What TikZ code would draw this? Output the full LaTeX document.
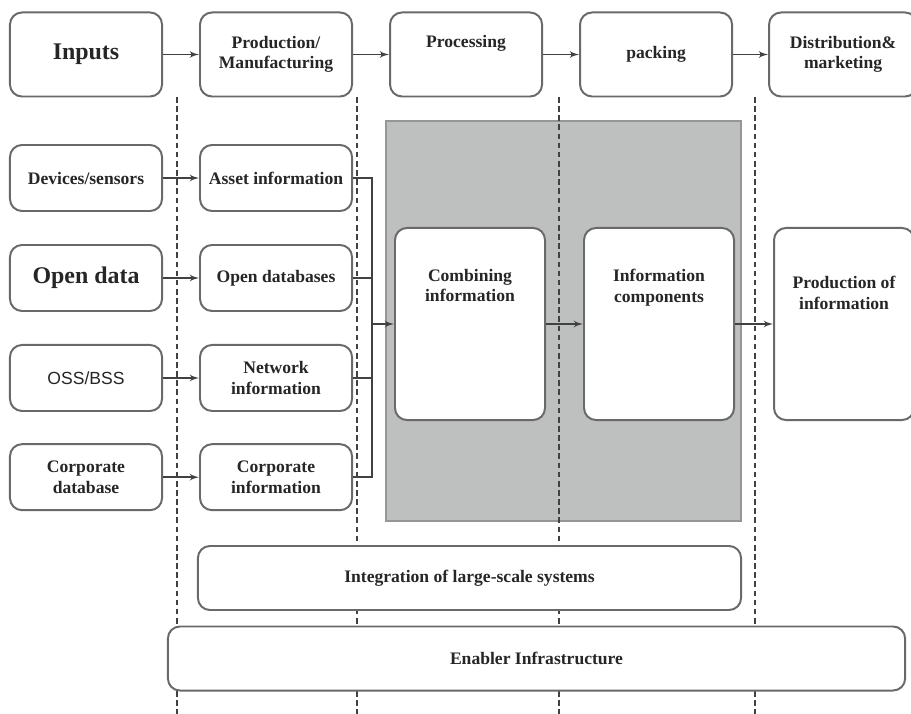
\documentclass[tikz,border=0pt]{standalone}
\usepackage{fontspec}
\setmainfont{Liberation Serif}
\newfontfamily\osssans{Liberation Sans}
\usepackage{tikz}
\usetikzlibrary{shapes,arrows}
\usetikzlibrary{calc,positioning}
\usepackage{xcolor}
\definecolor{boxgray}{RGB}{105,105,105}
\definecolor{linegray}{RGB}{65,65,65}
\definecolor{shadegray}{RGB}{190,191,191}
\tikzstyle{arrow} = [line width=1.3pt,draw=linegray,->,>=latex']
\tikzset{
    block/.style = {draw=boxgray, line width=1.4pt, fill=white, rectangle, rounded corners=0.3cm,
        minimum width=3.8cm, minimum height=2.1cm, align=center, text=black!85,
        font=\fontsize{12.5}{14.5}\selectfont\bfseries},
    smallblock/.style = {block, minimum height=1.65cm},
    tallblock/.style = {block, minimum width=3.75cm, minimum height=4.8cm},
    wideblock/.style = {block, minimum height=1.6cm},
    bigtext/.style = {font=\fontsize{17}{20}\selectfont\bfseries},
    stage/.style = {dash pattern=on 4pt off 2.5pt, line width=1.2pt, draw=linegray},
}

\begin{document}
\begin{tikzpicture}[x=0.025cm, y=-0.025cm, node distance=0.9cm]
    \useasboundingbox (0,0) rectangle (911,714);

    % shaded area and stage borders
    \filldraw [fill=shadegray, draw=boxgray!70, line width=0.8pt] (386,121) rectangle (741,521);
    \foreach \x in {177,357,559,755}
        \draw [stage] (\x,97) -- (\x,714);

    % value chain
    \node [block, bigtext] (inputs) at (86,54.5) {Inputs};
    \node [block, right=of inputs] (prod) {Production/\\Manufacturing};
    \node [block, right=of prod] (proc) {Processing\\[4pt]\mbox{}};
    \node [block, right=of proc] (pack) {packing};
    \node [block, right=0.875cm of pack, minimum width=3.7cm] (distr) {Distribution\&\\marketing};

    % sources
    \node [smallblock] (dev) at (86,178) {Devices/sensors};
    \node [smallblock, bigtext, below=0.8cm of dev] (open) {Open data};
    \node [smallblock, below=0.8cm of open, font=\fontsize{12.5}{14.5}\selectfont\osssans] (oss) {OSS/BSS};
    \node [smallblock, below=0.78cm of oss] (corpdb) {Corporate\\database};

    \node [smallblock, right=of dev] (asset) {Asset information};
    \node [smallblock, right=of open] (opendb) {Open databases};
    \node [smallblock, right=of oss] (netinfo) {Network\\information};
    \node [smallblock, right=of corpdb] (corpinfo) {Corporate\\information};

    % information blocks
    \node [tallblock] (combine) at (470,324) {Combining\\information\\[40pt]\mbox{}};
    \node [tallblock, right=0.925cm of combine] (infocomp) {Information\\components\\[40pt]\mbox{}};
    \node [tallblock, right=0.95cm of infocomp, minimum width=3.5cm] (prodinfo) {Production of\\information\\[30pt]\mbox{}};

    \node [wideblock, minimum width=13.575cm] (integr) at (469.5,578) {Integration of large-scale systems};
    \node [wideblock, minimum width=18.425cm] (enabler) at (536.5,658.5) {Enabler Infrastructure};

    \coordinate (bus) at (372,324);

    \draw [arrow] (inputs) -- (prod);
    \draw [arrow] (prod) -- (proc);
    \draw [arrow] (proc) -- (pack);
    \draw [arrow] (pack) -- (distr);

    \draw [arrow] (dev) -- (asset);
    \draw [arrow] (open) -- (opendb);
    \draw [arrow] (oss) -- (netinfo);
    \draw [arrow] (corpdb) -- (corpinfo);

    \draw [arrow, -] (asset.east) -- (asset.east -| bus) -- (corpinfo.east -| bus) -- (corpinfo.east);
    \draw [arrow, -] (opendb.east) -- (opendb.east -| bus);
    \draw [arrow, -] (netinfo.east) -- (netinfo.east -| bus);
    \draw [arrow] (bus) -- (combine);

    \draw [arrow] (combine) -- (infocomp);
    \draw [arrow] (infocomp) -- (prodinfo);
\end{tikzpicture}
\end{document}
